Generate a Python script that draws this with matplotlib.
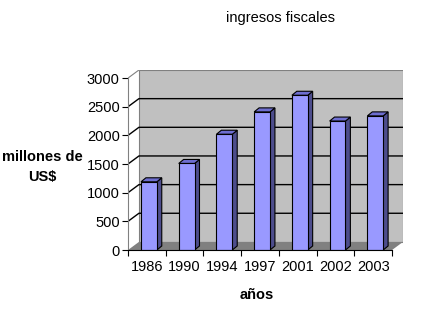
import matplotlib
matplotlib.use('Agg')
import matplotlib.pyplot as plt
from matplotlib.patches import Polygon

# data
years = ['1986', '1990', '1994', '1997', '2001', '2002', '2003']
ingresos = [1190, 1510, 2020, 2410, 2700, 2250, 2340]
yticks = [0, 500, 1000, 1500, 2000, 2500, 3000]

plt.rcParams['font.family'] = ['Liberation Sans', 'DejaVu Sans']
fs = 10.5

fig = plt.figure(figsize=(4.25, 3.12), dpi=100)
ax = fig.add_axes([128 / 425, 62 / 312, 275 / 425, 180 / 312])

# 3d look: depth offset of the walls, and of each bar
ddx, ddy = 0.29, 141
bdx, bdy = 0.13, 70
shift = 0.055
w = 0.42
n = len(years)
x0, x1 = -0.5, n - 0.5
ymax = yticks[-1]

# back wall and floor
ax.add_patch(Polygon([(x0 + ddx, ddy), (x1 + ddx, ddy), (x1 + ddx, ymax + ddy),
                      (x0 + ddx, ymax + ddy)], closed=True, fc='#c0c0c0',
                     ec='#808080', lw=0.8, zorder=1))
ax.add_patch(Polygon([(x0, 0), (x0 + ddx, ddy), (x1 + ddx, ddy), (x1, 0)],
                     closed=True, fc='#808080', ec='none', zorder=1))
for v in yticks[1:-1]:
    ax.plot([x0, x0 + ddx, x1 + ddx], [v, v + ddy, v + ddy], color='black',
            lw=1, zorder=2)
ax.plot([x0, x0 + ddx], [ymax, ymax + ddy], color='#808080', lw=0.8, zorder=2)

# bars
xs = [i + shift for i in range(n)]
ax.bar(xs, ingresos, width=w, color='#9999ff', edgecolor='black', lw=0.8,
       zorder=4)
for x, v in zip(xs, ingresos):
    r = x + w / 2
    l = x - w / 2
    ax.add_patch(Polygon([(r, 0), (r + bdx, bdy), (r + bdx, v + bdy), (r, v)],
                         closed=True, fc='#4d4d8c', ec='black', lw=0.8, zorder=3))
    ax.add_patch(Polygon([(l, v), (l + bdx, v + bdy), (r + bdx, v + bdy), (r, v)],
                         closed=True, fc='#6e6ed0', ec='black', lw=0.8, zorder=3))

ax.set_xlim(x0, x1 + ddx)
ax.set_ylim(0, ymax + ddy)
for s in ['top', 'right']:
    ax.spines[s].set_visible(False)
ax.spines['left'].set_bounds(0, ymax)
ax.spines['bottom'].set_bounds(x0, x1)
ax.spines['left'].set_color('#808080')
ax.spines['bottom'].set_color('black')
ax.spines['left'].set_zorder(5)
ax.spines['bottom'].set_zorder(5)

ax.set_yticks(yticks)
ax.set_yticklabels([str(t) for t in yticks], fontsize=fs)
ax.set_xticks([i - 0.5 for i in range(n + 1)])
ax.set_xticklabels([])
ax.set_xticks(range(n), minor=True)
ax.set_xticklabels(years, minor=True, fontsize=fs)
ax.tick_params(axis='x', which='minor', length=0, pad=7)
ax.tick_params(axis='x', which='major', length=4, direction='out')
ax.tick_params(axis='y', length=4, direction='out', pad=2)

fig.text(280 / 425, 1 - 18 / 312, 'ingresos fiscales', ha='center',
         va='center', fontsize=fs)
fig.text(42 / 425, 1 - 167 / 312, 'millones de\nUS$', ha='center',
         va='center', fontsize=fs, fontweight='bold', linespacing=1.5)
fig.text(257 / 425, 1 - 295 / 312, 'años', ha='center', va='center',
         fontsize=fs, fontweight='bold')

fig.savefig('out.png', dpi=100)
